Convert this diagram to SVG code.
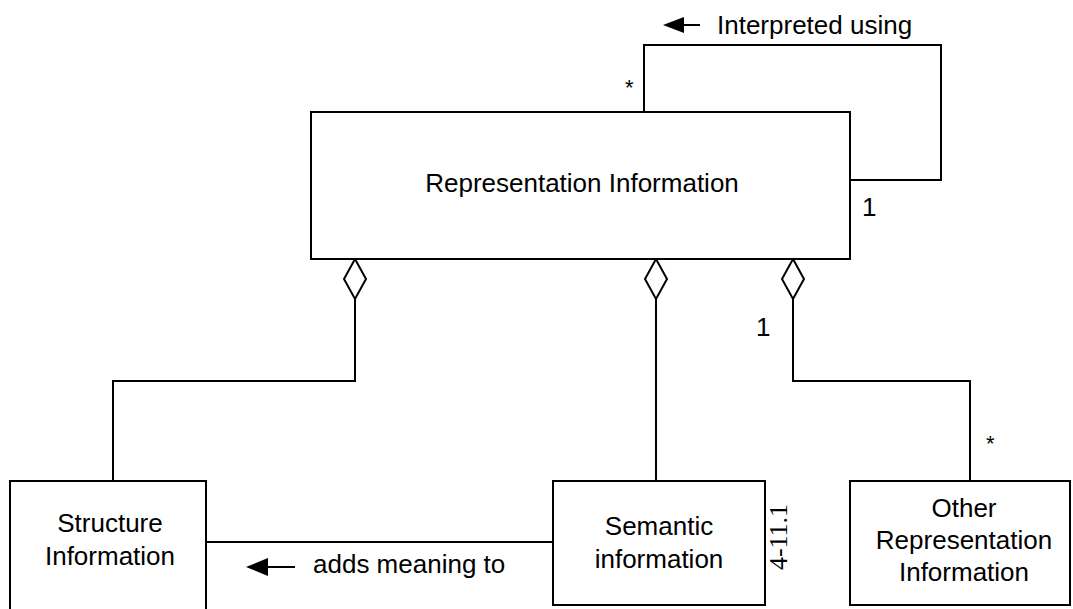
<svg xmlns="http://www.w3.org/2000/svg" width="1073" height="609" viewBox="0 0 1073 609">
<style>
.box{fill:#fff;stroke:#000;stroke-width:2}
.ln{fill:none;stroke:#000;stroke-width:2}
.dia{fill:#fff;stroke:#000;stroke-width:2}
.t{font-family:"Liberation Sans",Arial,sans-serif;font-size:26px;fill:#000}
.c{text-anchor:middle}
.s{font-family:"Liberation Sans",Arial,sans-serif;font-size:22px;fill:#000}
.tm{font-family:"Liberation Serif","Times New Roman",serif;font-size:26px;fill:#000}
</style>
<defs>
<path id="dmd" d="M0,0 L11,20 L0,40 L-11,20 Z"/>
</defs>
<rect width="1073" height="609" fill="#fff"/>
<g id="connectors">
<polyline class="ln" points="644,112 644,45 941,45 941,180 850,180"/>
<polyline class="ln" points="355,299 355,381 113,381 113,481"/>
<line class="ln" x1="656" y1="299" x2="656" y2="481"/>
<polyline class="ln" points="793,299 793,381 970,381 970,481"/>
<line class="ln" x1="207" y1="542" x2="553" y2="542"/>
<use href="#dmd" class="dia" x="355" y="259"/>
<use href="#dmd" class="dia" x="656" y="259"/>
<use href="#dmd" class="dia" x="793" y="259"/>
<path d="M663,25 L684,17 L684,33 Z" fill="#000"/>
<line class="ln" x1="680" y1="25" x2="700" y2="25"/>
<text class="t" x="717" y="34">Interpreted using</text>
<path d="M246,567 L268,558 L268,576 Z" fill="#000"/>
<line class="ln" x1="264" y1="567" x2="295" y2="567"/>
<text class="t" x="313" y="573">adds meaning to</text>
<text class="s" x="625" y="95">*</text>
<text class="t" x="862" y="216">1</text>
<text class="t" x="756" y="336">1</text>
<text class="s" x="986" y="451">*</text>
</g>
<g id="node-repinfo">
<rect class="box" x="311" y="112" width="539" height="147"/>
<text class="t c" x="582" y="192">Representation Information</text>
</g>
<g id="node-structure">
<rect class="box" x="10" y="481" width="196" height="135"/>
<text class="t c" x="110" y="532">Structure</text>
<text class="t c" x="110" y="565">Information</text>
</g>
<g id="node-semantic">
<rect class="box" x="553" y="481" width="212" height="124"/>
<text class="t c" x="659" y="535">Semantic</text>
<text class="t c" x="659" y="568">information</text>
<text class="tm c" transform="translate(787,537) rotate(-90)">4-11.1</text>
</g>
<g id="node-other">
<rect class="box" x="850" y="481" width="220" height="124"/>
<text class="t c" x="964" y="517">Other</text>
<text class="t c" x="964" y="549">Representation</text>
<text class="t c" x="964" y="581">Information</text>
</g>
</svg>
